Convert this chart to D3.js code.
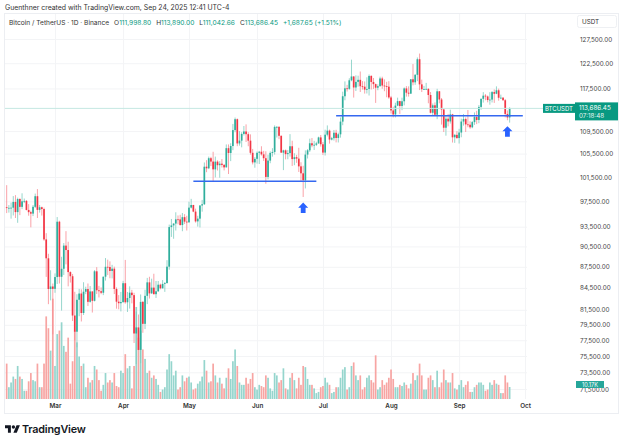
<!DOCTYPE html>
<html><head><meta charset="utf-8">
<script src="https://cdn.jsdelivr.net/npm/d3@7"></script>
<style>body{margin:0;background:#fff}svg{display:block;font-family:Inter,"Noto Sans",sans-serif}</style>
</head><body><svg id="c" width="624" height="444"></svg>
<script>
// Daily candles, values in thousands of USDT, first candle 2025-02-07
const startDate = "2025-02-07";
const opens = [
96.55,96.45,96.46,96.48,97.40,95.78,97.87,96.61,97.50,97.57,96.12,95.77,95.54,96.62,98.33,96.13,96.55,96.27,91.55,88.74,84.35,84.70,
84.37,86.03,94.27,86.07,87.22,90.62,89.96,86.74,86.15,80.73,78.60,82.86,83.72,81.07,83.97,84.34,82.58,84.01,82.72,86.85,84.17,84.04,83.83,86.08,87.50,87.47,86.90,87.23,84.35,82.60,82.39,
82.55,85.16,82.52,83.10,83.84,83.50,78.37,79.16,76.27,82.57,79.63,83.40,85.28,83.74,84.54,83.63,84.03,84.95,84.45,85.06,85.17,87.52,93.44,93.70,93.98,94.64,94.63,93.75,94.98,94.28,
94.17,96.49,96.91,95.86,94.32,94.75,96.83,97.03,103.24,102.97,104.70,104.12,102.79,104.11,103.50,103.76,103.55,103.13,106.45,105.61,106.83,109.68,111.67,107.29,107.79,108.99,109.43,108.94,107.78,105.64,103.98,
104.59,105.64,105.83,105.37,104.70,101.51,104.29,105.62,105.79,110.26,110.27,108.65,105.67,106.07,105.41,105.59,106.79,104.55,104.88,104.63,103.30,102.12,100.96,105.33,106.08,107.32,106.95,107.05,107.30,108.36,
107.14,105.68,108.85,109.58,107.98,108.22,109.20,108.26,108.92,111.23,115.99,117.52,117.42,119.09,119.84,117.68,118.78,119.18,117.92,117.84,117.27,117.38,119.95,118.76,118.34,117.64,117.94,119.45,118.06,117.95,117.84,
115.76,113.30,112.55,114.21,115.06,114.14,115.03,117.50,116.67,116.49,119.29,118.69,120.17,123.31,118.29,117.34,117.38,117.41,116.23,112.87,114.27,112.50,116.94,115.37,113.49,110.11,111.76,111.26,112.56,108.38,108.82,
108.25,109.24,111.24,111.70,110.72,110.66,110.19,111.14,112.07,111.53,113.96,115.50,116.10,115.95,115.27,115.35,116.79,116.47,117.14,115.70,115.71,115.23,112.65,111.9988];
const highs = [
100.14,96.90,97.30,98.35,98.50,98.10,98.00,98.80,97.95,97.70,97.05,96.00,96.90,98.75,99.49,96.90,96.65,96.50,92.50,89.40,87.00,85.12,
86.55,95.00,94.42,88.96,91.00,92.81,91.20,86.85,86.47,83.96,83.62,84.36,84.30,85.30,84.67,85.12,84.76,84.02,87.02,87.45,84.78,84.57,86.10,88.77,88.54,88.29,87.79,87.52,84.57,83.50,83.94,
85.49,88.50,83.94,84.72,84.23,83.82,81.24,80.87,83.59,82.70,84.25,85.91,86.07,85.80,86.50,85.47,85.47,85.10,85.60,85.32,88.46,93.82,94.70,94.03,95.75,95.25,95.35,95.63,95.46,95.20,
97.44,97.90,96.94,96.33,95.20,96.88,97.73,103.97,104.36,104.98,104.94,105.82,104.98,104.34,104.19,104.55,103.70,107.11,107.11,107.32,110.80,111.98,111.80,109.50,109.31,110.42,110.72,109.30,108.91,106.32,104.90,
105.88,105.97,106.79,105.98,105.91,105.30,105.90,106.45,110.53,110.40,110.38,108.70,106.18,106.22,106.13,108.95,107.77,105.56,105.28,106.52,104.00,103.40,106.07,106.29,108.14,108.25,107.75,107.59,108.50,108.79,
107.54,109.76,110.53,109.77,108.45,109.70,109.73,109.22,111.99,116.87,118.87,118.20,119.49,123.22,119.94,120.06,120.00,120.83,118.93,118.86,119.68,120.25,120.09,119.54,118.45,118.30,119.80,119.80,119.27,118.78,118.92,
116.05,114.00,114.75,115.72,115.13,115.72,117.70,117.95,117.90,119.31,122.33,120.32,123.67,124.47,119.22,117.99,118.58,117.54,116.80,114.61,114.82,117.43,117.00,115.65,113.65,112.38,112.65,113.45,112.66,108.95,109.48,
109.91,111.77,112.62,112.00,113.38,111.30,111.35,112.93,113.23,114.31,115.55,116.78,116.40,116.13,116.78,117.00,117.29,117.90,117.46,116.30,115.83,115.45,113.30,113.89];
const lows = [
95.62,95.70,94.75,95.25,94.85,94.10,95.30,96.25,97.22,96.05,95.21,93.40,95.15,96.42,94.85,95.70,95.23,91.35,86.05,82.26,82.78,78.26,
83.82,85.05,85.12,81.39,86.33,87.85,84.72,85.25,80.00,77.46,76.61,80.64,79.94,80.80,83.63,82.02,82.46,81.13,82.63,83.66,83.18,83.63,83.50,85.53,86.31,85.86,85.84,83.65,81.65,81.57,81.28,
82.43,82.32,81.21,81.66,82.37,77.15,74.51,76.24,74.62,78.46,78.94,82.27,83.03,83.68,83.60,83.11,83.95,84.30,84.40,83.95,85.14,87.08,91.93,91.65,92.91,93.87,93.67,92.80,93.91,92.91,
94.14,96.35,95.76,94.13,93.51,93.38,95.85,96.91,102.31,102.82,103.35,100.72,101.43,102.60,101.38,103.10,102.61,103.11,102.00,104.20,106.10,109.29,106.80,106.90,106.60,108.71,107.54,106.79,105.32,103.63,103.07,
103.77,103.70,105.15,104.23,100.37,101.10,103.84,104.97,105.33,108.34,108.05,105.67,102.66,104.50,104.52,104.98,103.37,103.50,103.90,102.35,100.84,98.20,99.60,104.65,105.79,106.61,106.13,106.83,107.21,106.73,
105.25,105.16,108.55,107.25,107.83,107.80,107.47,107.46,108.32,110.57,115.22,116.90,117.22,118.90,115.74,117.00,117.84,116.81,117.27,116.50,116.52,116.13,117.30,117.40,114.72,117.15,117.84,117.43,116.96,115.80,115.50,
112.72,112.00,112.00,114.11,112.65,113.35,114.26,115.92,115.93,116.45,118.10,118.20,118.92,117.18,116.80,117.20,117.28,114.65,112.74,112.38,112.38,111.68,114.65,110.68,109.33,108.67,110.36,110.87,107.45,107.39,108.10,
107.27,108.39,110.50,109.33,110.20,109.92,110.01,110.62,110.77,110.94,113.43,114.78,115.22,114.83,114.38,114.80,114.72,116.38,115.14,115.53,115.14,112.01,111.48,111.04266];
const closes = [
96.45,96.46,96.48,97.40,95.78,97.87,96.61,97.50,97.57,96.12,95.77,95.54,96.62,98.33,96.13,96.55,96.27,91.55,88.74,84.35,84.70,84.37,
86.03,94.27,86.07,87.22,90.62,89.96,86.74,86.15,80.73,78.60,82.86,83.72,81.07,83.97,84.34,82.58,84.01,82.72,86.85,84.17,84.04,83.83,86.08,87.50,87.47,86.90,87.23,84.35,82.60,82.39,82.55,
85.16,82.52,83.10,83.84,83.50,78.37,79.16,76.27,82.57,79.63,83.40,85.28,83.74,84.54,83.63,84.03,84.95,84.45,85.06,85.17,87.52,93.44,93.70,93.98,94.64,94.63,93.75,94.98,94.28,94.17,
96.49,96.91,95.86,94.32,94.75,96.83,97.03,103.24,102.97,104.70,104.12,102.79,104.11,103.50,103.76,103.55,103.13,106.45,105.61,106.83,109.68,111.67,107.29,107.79,108.99,109.43,108.94,107.78,105.64,103.98,104.59,
105.64,105.83,105.37,104.70,101.51,104.29,105.62,105.79,110.26,110.27,108.65,105.67,106.07,105.41,105.59,106.79,104.55,104.88,104.63,103.30,102.12,100.96,105.33,106.08,107.32,106.95,107.05,107.30,108.36,107.14,
105.68,108.85,109.58,107.98,108.22,109.20,108.26,108.92,111.23,115.99,117.52,117.42,119.09,119.84,117.68,118.78,119.18,117.92,117.84,117.27,117.38,119.95,118.76,118.34,117.64,117.94,119.45,118.06,117.95,117.84,115.76,
113.30,112.55,114.21,115.06,114.14,115.03,117.50,116.67,116.49,119.29,118.69,120.17,123.31,118.29,117.34,117.38,117.41,116.23,112.87,114.27,112.50,116.94,115.37,113.49,110.11,111.76,111.26,112.56,108.38,108.82,108.25,
109.24,111.24,111.70,110.72,110.66,110.19,111.14,112.07,111.53,113.96,115.50,116.10,115.95,115.27,115.35,116.79,116.47,117.14,115.70,115.71,115.23,112.65,112.00,113.68645];
// Daily volume, thousands of BTC
const volumes = [
30,10,14,19,17,28,19,17,7,7,15,22,16,15,30,10,10,30,70,60,41,85,
28,55,58,65,45,40,52,13,32,58,48,36,28,30,10,18,14,16,28,25,16,7,12,22,14,16,14,22,11,10,24,
22,38,26,28,9,28,78,52,58,42,34,22,24,18,20,17,12,6,8,10,25,38,32,20,24,8,10,20,15,18,
19,14,8,9,13,15,19,33,24,14,15,30,20,14,18,13,9,18,26,17,32,42,28,14,12,12,18,13,17,22,10,
8,12,11,10,20,18,9,7,22,20,14,16,26,9,8,18,22,16,9,18,12,28,27,17,12,12,9,5,6,10,
11,18,14,12,5,6,10,10,18,25,27,8,10,28,31,20,16,20,8,10,18,20,16,14,37,8,10,16,12,14,18,
25,17,10,10,12,11,14,12,9,13,22,16,20,30,20,8,8,18,20,16,10,24,10,14,25,16,14,14,22,9,8,
12,16,10,12,15,6,6,10,12,14,14,12,7,8,14,12,16,13,12,5,5,20,14,10.17];

const priceTicks = [127500,122500,117500,109500,105500,101500,97500,93500,90500,87500,84500,81500,79500,77500,75500,73500,71500];
const monthDates = ["2025-03-01","2025-04-01","2025-05-01","2025-06-01","2025-07-01","2025-08-01","2025-09-01","2025-10-01"];
const monthLabels = ["Mar","Apr","May","Jun","Jul","Aug","Sep","Oct"];
const supportLines = [["2025-05-03","2025-06-28",100800],["2025-07-07","2025-09-30",112300]];
const arrowMarks = [["2025-06-22",97300],["2025-09-23",110400]];
const lastPrice = 113686.45;
const lastVolume = 10.17;

const svg = d3.select("#c");
const W = 624, H = 444, X0 = 5, X1 = 527, VB = 399;
const x = d3.scaleUtc().domain([new Date("2025-03-01"), new Date("2025-10-01")]).range([55, 525]);
const y = d3.scaleLog().domain([71500, 127500]).range([389, 39]);
const vy = d3.scaleLinear().domain([0, 100]).range([VB, VB - 118]);
const UP = "#2fae9c", DN = "#f23645";

const data = closes.map((c, i) => ({
  date: d3.utcDay.offset(new Date(startDate), i),
  o: opens[i] * 1000, h: highs[i] * 1000, l: lows[i] * 1000, c: c * 1000, v: volumes[i]
}));

// frame
svg.append("rect").attr("x", 4.5).attr("y", 13.5).attr("width", 614).attr("height", 400)
  .attr("fill", "none").attr("stroke", "#eceef2");

// grid
const grid = svg.append("g");
grid.append("g").attr("transform", `translate(${X0},0)`)
  .call(d3.axisLeft(y).tickValues(priceTicks).tickSize(-(X1 - X0)).tickFormat(""))
  .call(g => { g.select(".domain").remove(); g.selectAll("line").attr("stroke", "#f3f4f6"); });
grid.append("g").attr("transform", `translate(0,${VB})`)
  .call(d3.axisBottom(x).tickValues(monthDates.map(d => new Date(d))).tickSize(-(VB - 14)).tickFormat(""))
  .call(g => { g.select(".domain").remove(); g.selectAll("line").attr("stroke", "#f3f4f6"); });

svg.append("clipPath").attr("id", "clip").append("rect")
  .attr("x", X0).attr("y", 14).attr("width", X1 - X0).attr("height", VB - 14);
const plot = svg.append("g").attr("clip-path", "url(#clip)");

// volume
plot.append("g").selectAll("rect").data(data).join("rect")
  .attr("x", d => x(d.date) - 0.85).attr("width", 1.7)
  .attr("y", d => vy(d.v)).attr("height", d => VB - vy(d.v))
  .attr("fill", d => d.c >= d.o ? "#95d5cd" : "#f7a5a3");

// candles
const cg = plot.append("g").selectAll("g").data(data).join("g");
cg.append("line").attr("x1", d => x(d.date)).attr("x2", d => x(d.date))
  .attr("y1", d => y(d.h)).attr("y2", d => y(d.l))
  .attr("stroke", d => d.c >= d.o ? "#7ccbbf" : "#f78a92").attr("stroke-width", 0.8);
cg.append("rect").attr("x", d => x(d.date) - 0.85).attr("width", 1.7)
  .attr("y", d => y(Math.max(d.o, d.c)))
  .attr("height", d => Math.max(0.8, Math.abs(y(d.o) - y(d.c))))
  .attr("fill", d => d.c >= d.o ? UP : DN);

// last price line
svg.append("line").attr("x1", X0).attr("x2", 543).attr("y1", y(lastPrice)).attr("y2", y(lastPrice))
  .attr("stroke", "#c4e8e2").attr("stroke-width", 1);

// support lines
svg.append("g").selectAll("line").data(supportLines).join("line")
  .attr("x1", d => x(new Date(d[0]))).attr("x2", d => x(new Date(d[1])))
  .attr("y1", d => y(d[2])).attr("y2", d => y(d[2]))
  .attr("stroke", "#3568f0").attr("stroke-width", 1.5);

// arrows
svg.append("g").selectAll("path").data(arrowMarks).join("path")
  .attr("transform", d => `translate(${x(new Date(d[0]))},${y(d[1])})`)
  .attr("d", "M0,0L5,5.2L2.4,5.2L2.4,10.5L-2.4,10.5L-2.4,5.2L-5,5.2Z")
  .attr("fill", "#2962ff");

// price axis labels
svg.append("g").attr("transform", "translate(578,0)")
  .call(d3.axisRight(y).tickValues(priceTicks).tickSize(0).tickPadding(2).tickFormat(d3.format(",.2f")))
  .call(g => { g.select(".domain").remove();
    g.selectAll("text").attr("font-family", "Inter,sans-serif").attr("font-size", 6.3).attr("fill", "#444"); });

// currency label
svg.append("rect").attr("x", 577.5).attr("y", 15.5).attr("width", 39).attr("height", 12).attr("rx", 2)
  .attr("fill", "#fff").attr("stroke", "#eef0f3");
svg.append("text").attr("x", 582).attr("y", 24).attr("font-size", 6.3).attr("fill", "#333").text("USDT");

// month labels
svg.append("g").attr("transform", `translate(0,${VB})`)
  .call(d3.axisBottom(x).tickValues(monthDates.map(d => new Date(d))).tickSize(0).tickPadding(5)
    .tickFormat((d, i) => monthLabels[i]))
  .call(g => { g.select(".domain").remove();
    g.selectAll("text").attr("font-family", "Inter,sans-serif").attr("font-size", 6.3)
      .attr("font-weight", 600).attr("fill", "#333"); });

// price label
const py = y(lastPrice);
svg.append("rect").attr("x", 543).attr("y", py - 4.5).attr("width", 32).attr("height", 9).attr("fill", "#089981");
svg.append("text").attr("x", 559).attr("y", py + 2.2).attr("text-anchor", "middle").attr("font-size", 6)
  .attr("fill", "#fff").text("BTCUSDT");
svg.append("rect").attr("x", 575).attr("y", py - 6).attr("width", 43).attr("height", 18).attr("fill", "#089981");
svg.append("text").attr("x", 579).attr("y", py + 1.8).attr("font-size", 6.3).attr("fill", "#fff")
  .text(d3.format(",.2f")(lastPrice));
svg.append("text").attr("x", 579).attr("y", py + 9.3).attr("font-size", 6.3).attr("fill", "#e6f5f2").text("07:18:48");

// volume label (sits just above the lowest price tick)
const vly = vy(lastVolume) - 2;
svg.append("rect").attr("x", 576).attr("y", vly - 4).attr("width", 28).attr("height", 7).attr("fill", "#26a69a");
svg.append("text").attr("x", 590).attr("y", vly + 1.6).attr("text-anchor", "middle").attr("font-size", 5.6)
  .attr("fill", "#fff").text(lastVolume + "K");

// header
svg.append("text").attr("x", 5).attr("y", 10).attr("font-size", 6.9).attr("fill", "#333")
  .text("Guenthner created with TradingView.com, Sep 24, 2025 12:41 UTC-4");
const lg = svg.append("text").attr("x", 9).attr("y", 25).attr("font-size", 6.6).attr("fill", "#333");
lg.append("tspan").text("Bitcoin / TetherUS · 1D · Binance");
const G = "#089981";
[["O", "111,998.80"], ["H", "113,890.00"], ["L", "111,042.66"], ["C", "113,686.45"]].forEach(p => {
  lg.append("tspan").attr("dx", 5).attr("fill", "#333").text(p[0]);
  lg.append("tspan").attr("fill", G).text(p[1]);
});
lg.append("tspan").attr("dx", 5).attr("fill", G).text("+1,687.65 (+1.51%)");

// TradingView logo
const logo = svg.append("g").attr("transform", "translate(5,423.6) scale(0.42)").attr("fill", "#131722");
logo.append("path").attr("d", "M14 22H7V11H0V4h14v18zM28 22h-8l7.5-18h8L28 22z");
logo.append("circle").attr("cx", 20).attr("cy", 8).attr("r", 4);
svg.append("text").attr("x", 22).attr("y", 433).attr("font-size", 10.8).attr("font-weight", 600)
  .attr("fill", "#131722").attr("letter-spacing", -0.2).text("TradingView");
</script></body></html>
